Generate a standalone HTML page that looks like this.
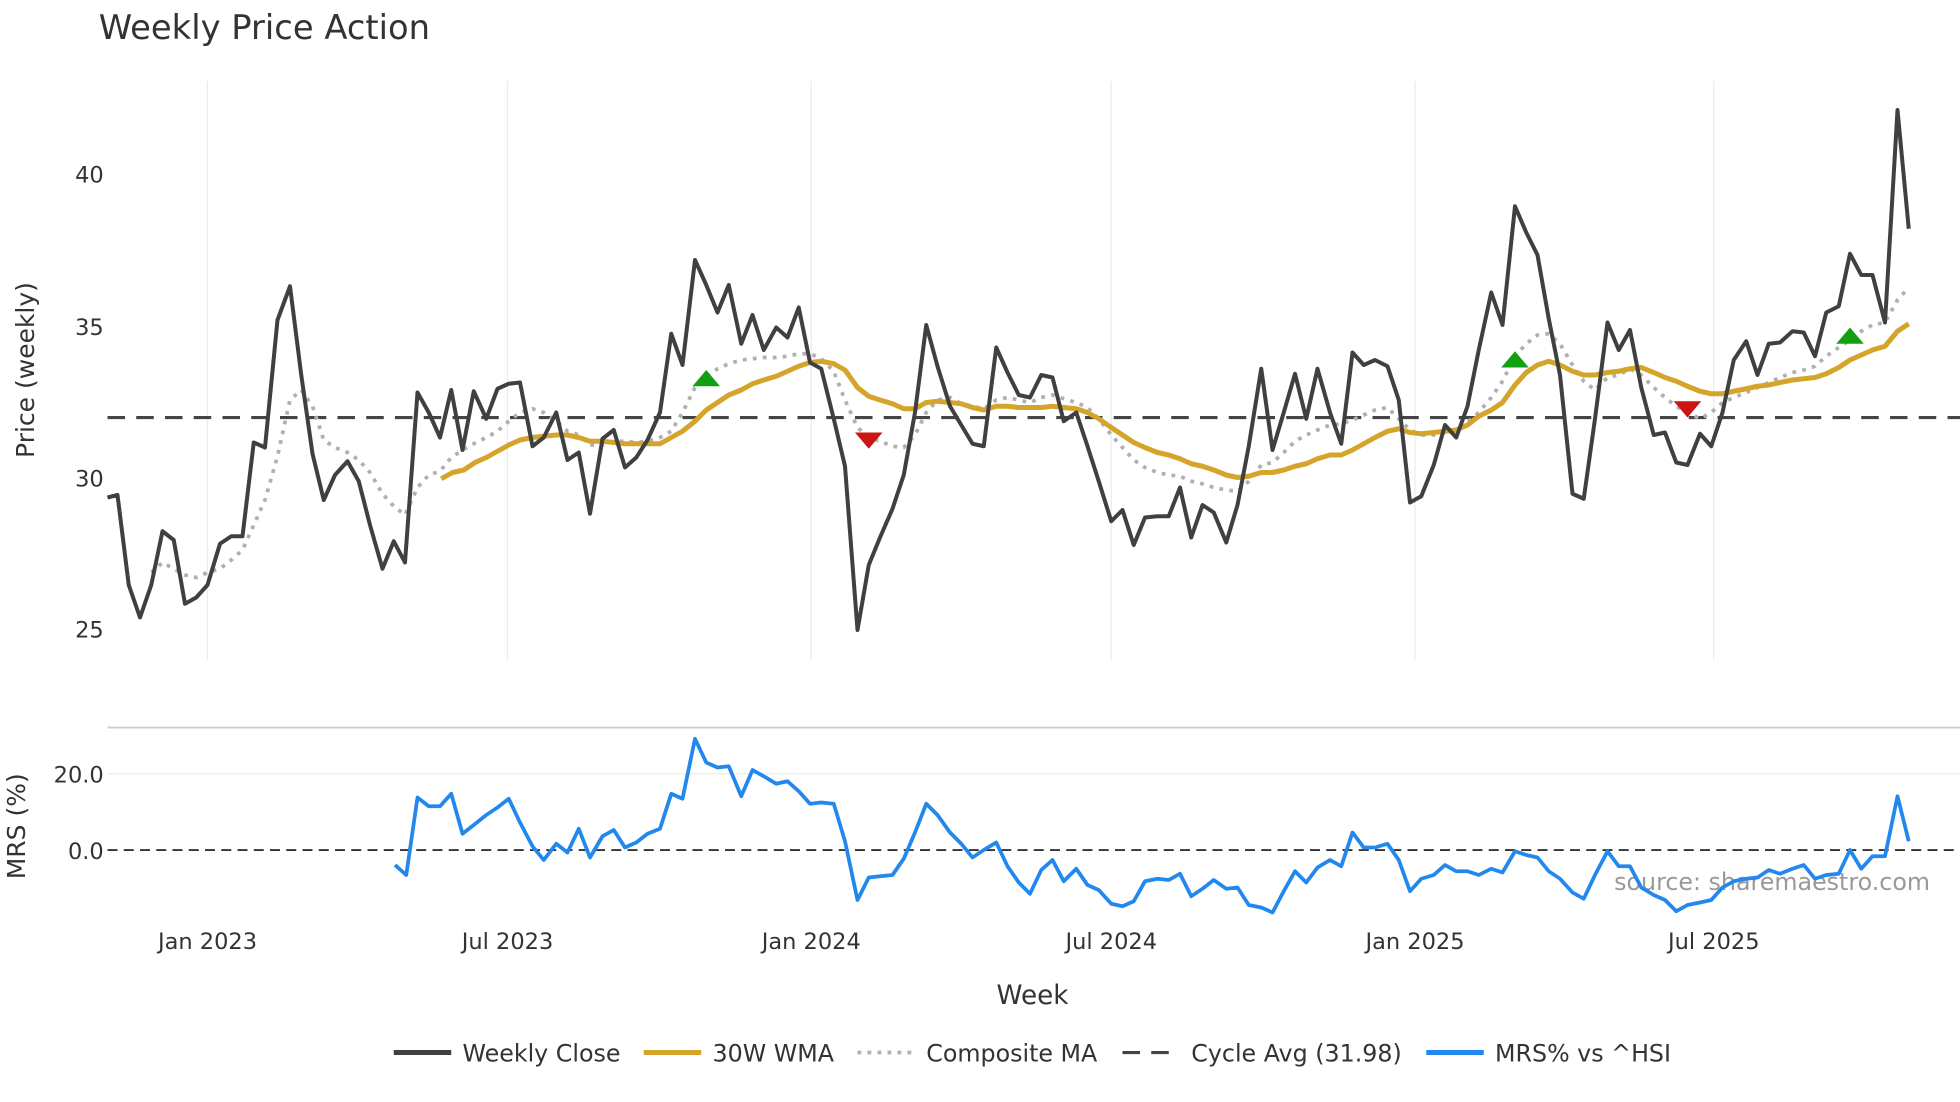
<!DOCTYPE html>
<html><head><meta charset="utf-8"><style>
html,body{margin:0;padding:0;background:#fff;}
svg{display:block;font-family:"DejaVu Sans","Liberation Sans",sans-serif;}
</style></head><body>
<svg width="1960" height="1102" viewBox="0 0 1568 881.6" xmlns="http://www.w3.org/2000/svg">
<rect width="1568" height="882" fill="#fff"/>
<text x="79" y="31" font-size="27" fill="#333">Weekly Price Action</text>
<g stroke="#ececec" stroke-width="1">
<line x1="166" y1="65" x2="166" y2="528"/><line x1="406" y1="65" x2="406" y2="528"/><line x1="649" y1="65" x2="649" y2="528"/><line x1="889" y1="65" x2="889" y2="528"/><line x1="1132" y1="65" x2="1132" y2="528"/><line x1="1371" y1="65" x2="1371" y2="528"/>
<line x1="86" y1="619" x2="1568" y2="619"/>
</g>
<line x1="86" y1="582" x2="1568" y2="582" stroke="#ccc" stroke-width="1.5"/>
<g font-size="18" fill="#333" text-anchor="end">
<text x="83" y="146">40</text><text x="83" y="268">35</text><text x="83" y="389">30</text><text x="83" y="510">25</text>
<text x="83" y="626">20.0</text><text x="83" y="687">0.0</text>
</g>
<text transform="translate(27,296) rotate(-90)" font-size="20" fill="#333" text-anchor="middle">Price (weekly)</text>
<text transform="translate(20,661) rotate(-90)" font-size="20" fill="#333" text-anchor="middle">MRS (%)</text>
<g font-size="18" fill="#333" text-anchor="middle">
<text x="166" y="759">Jan 2023</text><text x="406" y="759">Jul 2023</text><text x="649" y="759">Jan 2024</text><text x="889" y="759">Jul 2024</text><text x="1132" y="759">Jan 2025</text><text x="1371" y="759">Jul 2025</text>
</g>
<text x="826" y="803" font-size="21" fill="#333" text-anchor="middle">Week</text>
<line x1="86" y1="334" x2="1568" y2="334" stroke="#444" stroke-width="2.5" stroke-dasharray="14,9"/>
<line x1="86" y1="680" x2="1568" y2="680" stroke="#333" stroke-width="1.5" stroke-dasharray="8,5"/>
<polyline fill="none" stroke="#b0b0b0" stroke-width="3" stroke-dasharray="3,5" points="121,458 130,450 139,455 148,460 157,462 166,458 176,455 185,448 194,440 203,420 212,400 222,365 232,320 241,312 250,325 259,352 268,358 278,362 287,368 296,378 306,395 315,405 324,412 334,390 343,380 352,377 361,366 370,360 379,355 389,350 398,345 407,337 416,330 426,327 435,330 445,337 454,345 463,348 472,356 482,356 491,353 500,353 509,354 518,353 528,350 537,345 546,330 556,310 565,302 574,295 583,291 593,288 602,287 611,286 621,286 630,285 639,283 648,283 657,287 667,297 676,320 686,342 695,350 704,353 714,357 723,358 732,348 741,330 750,320 760,318 769,323 778,325 787,327 797,320 806,318 815,320 824,322 833,318 842,316 851,319 861,322 870,326 879,335 889,348 898,358 907,368 916,374 926,378 935,380 944,381 953,385 962,387 971,390 981,392 990,393 999,385 1009,372 1018,370 1027,362 1036,353 1045,348 1054,344 1064,340 1073,339 1082,336 1091,332 1100,328 1110,326 1119,335 1128,344 1137,348 1147,348 1156,346 1165,344 1174,338 1183,330 1193,318 1202,305 1212,285 1221,275 1230,268 1239,267 1248,275 1258,292 1267,305 1276,312 1286,302 1295,300 1304,295 1313,300 1323,310 1332,318 1341,325 1350,330 1360,335 1369,330 1378,322 1387,318 1397,314 1406,310 1415,306 1424,302 1434,298 1443,296 1452,293 1461,285 1471,278 1480,272 1489,265 1498,260 1508,258 1518,240 1527,230"/>
<polyline fill="none" stroke="#d4a52a" stroke-width="4" stroke-linejoin="round" points="353,383 362,378 371,376 380,370 389,366 398,361 407,356 416,352 426,350 435,349 445,348 454,348 463,350 472,353 482,353 491,354 500,355 509,355 518,355 528,355 537,350 546,345 556,337 565,328 574,322 583,316 593,312 602,307 611,304 621,301 630,297 639,293 648,290 657,289 667,291 676,296 686,310 695,317 704,320 714,323 723,327 732,327 741,322 750,321 760,322 769,323 778,326 787,328 797,325 806,325 815,326 824,326 833,326 842,325 851,326 861,327 870,330 879,335 889,342 898,348 907,354 916,358 926,362 935,364 944,367 953,371 962,373 971,376 981,380 990,382 999,381 1009,378 1018,378 1027,376 1036,373 1045,371 1054,367 1064,364 1073,364 1082,360 1091,355 1100,350 1110,345 1119,343 1128,346 1137,347 1147,346 1156,345 1165,344 1174,340 1183,333 1193,328 1202,322 1212,308 1221,298 1230,292 1239,289 1248,292 1258,297 1267,300 1276,300 1286,298 1295,297 1304,295 1313,294 1323,298 1332,302 1341,305 1350,309 1360,313 1369,315 1378,315 1387,313 1397,311 1406,309 1415,308 1424,306 1434,304 1443,303 1452,302 1461,299 1471,294 1480,288 1489,284 1498,280 1508,277 1518,265 1527,259"/>
<polyline fill="none" stroke="#404040" stroke-width="3.2" stroke-linejoin="round" points="86,398 94,396 103,468 112,494 121,468 130,425 139,432 148,483 157,478 166,468 176,435 185,429 194,429 203,354 212,358 222,256 232,229 241,300 250,363 259,400 268,380 278,369 287,385 296,420 306,455 315,433 324,450 334,314 343,330 352,350 361,312 370,360 379,313 389,335 398,311 407,307 416,306 426,357 435,350 445,330 454,368 463,362 472,411 482,351 491,344 500,374 509,366 518,352 528,330 537,267 546,292 556,208 565,228 574,250 583,228 593,275 602,252 611,280 621,262 630,270 639,246 648,290 657,295 667,335 676,373 686,504 695,452 704,430 714,407 723,380 732,330 741,260 750,293 760,325 769,340 778,355 787,357 797,278 806,298 815,316 824,318 833,300 842,302 851,337 861,330 870,357 879,385 889,417 898,408 907,436 916,414 926,413 935,413 944,390 953,430 962,404 971,410 981,434 990,404 999,357 1009,295 1018,360 1027,330 1036,299 1045,335 1054,295 1064,330 1073,355 1082,282 1091,292 1100,288 1110,293 1119,320 1128,402 1137,397 1147,372 1156,340 1165,350 1174,325 1183,280 1193,234 1202,260 1212,165 1221,186 1230,204 1239,255 1248,300 1258,395 1267,399 1276,335 1286,258 1295,280 1304,264 1313,310 1323,348 1332,346 1341,370 1350,372 1360,347 1369,357 1378,330 1387,288 1397,273 1406,300 1415,275 1424,274 1434,265 1443,266 1452,285 1461,250 1471,245 1480,203 1489,220 1498,220 1508,258 1518,88 1527,183"/>
<g fill="#12a012">
<polygon points="565,296 554,309 576,309"/><polygon points="1212,281 1201,294 1223,294"/><polygon points="1480,262 1469,275 1491,275"/>
</g>
<g fill="#cc1414">
<polygon points="695,359 684,346 706,346"/><polygon points="1350,334 1339,321 1361,321"/>
</g>
<text x="1544" y="712" font-size="19" fill="#999" text-anchor="end">source: sharemaestro.com</text>
<polyline fill="none" stroke="#2288ee" stroke-width="3" stroke-linejoin="round" points="316,692 325,700 334,638 343,645 352,645 361,635 370,667 379,660 389,652 398,646 407,639 416,658 426,677 435,688 445,675 454,682 463,663 472,686 482,669 491,664 500,678 509,674 518,667 528,663 537,635 546,639 556,591 565,610 574,614 583,613 593,637 602,616 611,621 621,627 630,625 639,633 648,643 657,642 667,643 676,673 686,720 695,702 704,701 714,700 723,687 732,666 741,643 750,652 760,666 769,675 778,686 787,680 797,674 806,693 815,706 824,715 833,696 842,688 851,705 861,695 870,708 879,712 889,723 898,725 907,721 916,705 926,703 935,704 944,699 953,717 962,711 971,704 981,711 990,710 999,724 1009,726 1018,730 1027,713 1036,697 1045,706 1054,694 1064,688 1073,693 1082,666 1091,678 1100,678 1110,675 1119,688 1128,713 1137,703 1147,700 1156,692 1165,697 1174,697 1183,700 1193,695 1202,698 1212,681 1221,684 1230,686 1239,697 1248,703 1258,714 1267,719 1276,700 1286,681 1295,693 1304,693 1313,710 1323,716 1332,720 1341,729 1350,724 1360,722 1369,720 1378,710 1387,705 1397,703 1406,702 1415,696 1424,699 1434,695 1443,692 1452,703 1461,700 1471,699 1480,680 1489,695 1498,685 1508,685 1518,637 1527,673"/>
<g font-size="19" fill="#333">
<line x1="315" y1="842" x2="361" y2="842" stroke="#404040" stroke-width="4"/><text x="370" y="849">Weekly Close</text>
<line x1="515" y1="842" x2="561" y2="842" stroke="#d4a52a" stroke-width="4"/><text x="570" y="849">30W WMA</text>
<line x1="686" y1="842" x2="732" y2="842" stroke="#b0b0b0" stroke-width="3" stroke-dasharray="3,5"/><text x="741" y="849">Composite MA</text>
<line x1="898" y1="842" x2="944" y2="842" stroke="#444" stroke-width="2.5" stroke-dasharray="14,9"/><text x="953" y="849">Cycle Avg (31.98)</text>
<line x1="1141" y1="842" x2="1187" y2="842" stroke="#2288ee" stroke-width="4"/><text x="1196" y="849">MRS% vs ^HSI</text>
</g>
</svg>
</body></html>
